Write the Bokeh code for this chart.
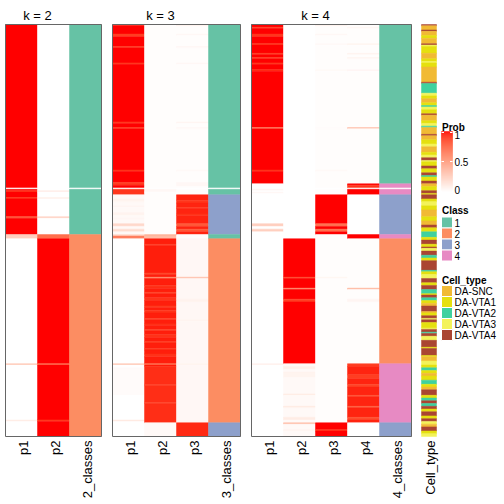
import numpy as np
from bokeh.plotting import figure
from bokeh.models import Range1d, ColumnDataSource
from bokeh.embed import file_html
from bokeh.resources import INLINE
from bokeh.core.properties import value

# ---------------- data ----------------
N_ROWS = 300
BLANK_ROWS = [119]
K_VALUES = [2, 3, 4]

# segments: (first_row, end_row, probability); later segments override earlier
K2_P1 = [(0, 153, 1.0), (121, 122, 0.9), (126, 127, 0.92), (140, 141, 0.75),
         (153, 156, 0.25), (156, 300, 0.0), (247, 248, 0.3), (288, 289, 0.1)]
K2_P2 = [(0, 153, 0.0), (121, 122, 0.1), (126, 127, 0.08), (140, 141, 0.25),
         (153, 156, 0.72), (156, 300, 1.0), (247, 248, 0.7), (288, 289, 0.9)]
K2_CLASS = [(0, 153, 1), (153, 300, 2)]
K2_LABELS = ["p1", "p2", "2_classes"]

K3_P1 = [(0, 124, 1.0), (0, 1, 0.9), (7, 9, 0.9), (16, 17, 0.9), (28, 29, 0.9),
         (71, 72, 0.9), (75, 76, 0.9), (106, 107, 0.92), (115, 117, 0.9),
         (120, 124, 0.92), (124, 153, 0.03), (127, 129, 0.06), (132, 133, 0.05),
         (137, 139, 0.06), (141, 142, 0.05), (145, 147, 0.2), (149, 151, 0.18),
         (153, 154, 0.2), (154, 156, 0.65), (156, 300, 0.0), (247, 248, 0.3),
         (250, 270, 0.02), (288, 289, 0.12)]
K3_P2 = [(0, 153, 0.01), (120, 122, 0.04), (153, 154, 0.4), (154, 156, 0.35),
         (156, 290, 0.97), (160, 161, 0.92), (181, 182, 0.85), (184, 185, 0.6),
         (190, 192, 0.93), (195, 196, 0.9), (199, 201, 0.92), (205, 206, 0.9),
         (208, 210, 0.93), (214, 215, 0.9), (218, 219, 0.92), (222, 223, 0.9),
         (226, 228, 0.93), (231, 232, 0.9), (236, 237, 0.92), (240, 242, 0.93),
         (247, 248, 0.7), (249, 290, 0.94), (262, 263, 0.91), (275, 276, 0.91),
         (290, 300, 0.03)]
K3_P3 = [(0, 124, 0.01), (0, 1, 0.12), (7, 8, 0.04), (16, 17, 0.05), (28, 29, 0.04),
         (71, 72, 0.05), (75, 76, 0.04), (106, 107, 0.03), (115, 118, 0.04),
         (124, 153, 0.96), (128, 130, 0.92), (133, 134, 0.93), (138, 139, 0.92),
         (145, 147, 0.8), (149, 151, 0.82), (153, 156, 0.01), (156, 290, 0.04),
         (184, 185, 0.35), (200, 202, 0.07), (215, 216, 0.06), (247, 248, 0.06),
         (290, 300, 0.95)]
K3_CLASS = [(0, 124, 1), (124, 153, 3), (153, 156, 1), (156, 290, 2), (290, 300, 3)]
K3_LABELS = ["p1", "p2", "p3", "3_classes"]

K4_P1 = [(0, 116, 1.0), (2, 3, 0.9), (7, 9, 0.92), (14, 15, 0.9), (21, 22, 0.92),
         (24, 25, 0.9), (28, 29, 0.9), (33, 34, 0.93), (75, 76, 0.65),
         (106, 107, 0.92), (116, 300, 0.0), (120, 121, 0.05), (122, 123, 0.04),
         (145, 147, 0.25), (149, 151, 0.25), (247, 248, 0.08)]
K4_P2 = [(0, 156, 0.0), (156, 247, 1.0), (184, 185, 0.88), (192, 193, 0.6),
         (200, 202, 0.9), (247, 300, 0.03), (249, 251, 0.08), (253, 257, 0.06),
         (269, 270, 0.1), (278, 279, 0.12), (286, 288, 0.1), (290, 291, 0.35),
         (295, 296, 0.06)]
K4_P3 = [(0, 124, 0.01), (0, 1, 0.12), (7, 8, 0.04), (14, 15, 0.03), (33, 34, 0.03),
         (75, 76, 0.02), (106, 107, 0.03), (124, 153, 1.0), (145, 147, 0.7),
         (149, 151, 0.72), (153, 290, 0.01), (184, 185, 0.06), (290, 300, 1.0),
         (295, 296, 0.9)]
K4_P4 = [(0, 116, 0.01), (2, 3, 0.05), (14, 15, 0.06), (21, 22, 0.07), (24, 25, 0.06),
         (33, 34, 0.05), (75, 76, 0.35), (116, 124, 1.0), (117, 119, 0.92),
         (124, 153, 0.0), (153, 156, 1.0), (156, 247, 0.01), (192, 193, 0.4),
         (200, 202, 0.05), (247, 290, 0.96), (247, 249, 0.9), (255, 258, 0.9),
         (262, 264, 0.88), (270, 271, 0.85), (278, 279, 0.8), (286, 288, 0.85),
         (290, 300, 0.0)]
K4_CLASS = [(0, 116, 1), (116, 124, 4), (124, 153, 3), (153, 156, 4), (156, 247, 2),
            (247, 290, 4), (290, 300, 3)]
K4_LABELS = ["p1", "p2", "p3", "p4", "4_classes"]

CLASS_NAMES = ["1", "2", "3", "4"]
CLASS_COLORS = ["#66C2A5", "#FC8D62", "#8DA0CB", "#E78AC3"]

CELL_TYPES = ["DA-SNC", "DA-VTA1", "DA-VTA2", "DA-VTA3", "DA-VTA4"]
CELL_TYPE_COLORS = ["#F1BA34", "#E5E00F", "#3FD19F", "#F3F35A", "#AA4532"]
# (cell type index, number of consecutive rows), top to bottom
CELL_TYPE_RUNS = [
    (4, 1), (0, 3), (4, 1), (0, 3), (1, 2), (0, 4), (4, 1), (3, 1), (1, 5), (0, 4),
    (1, 2), (3, 1), (1, 3), (0, 11), (4, 1), (2, 7), (3, 2), (1, 2), (0, 3), (1, 2),
    (2, 1), (3, 2), (1, 3), (4, 1), (0, 4), (1, 2), (3, 2), (2, 1), (0, 5), (4, 1),
    (0, 3), (1, 3), (3, 2), (0, 4), (1, 2), (3, 2), (4, 2),
    (3, 1), (1, 3), (4, 2), (1, 3), (4, 2), (2, 1), (1, 3), (4, 2), (0, 2), (1, 3),
    (4, 2), (1, 1), (4, 3), (1, 2), (3, 3), (1, 3), (0, 5), (1, 3), (0, 3), (4, 2),
    (1, 3), (2, 4), (1, 2), (4, 3), (1, 2), (4, 1), (3, 2), (4, 3), (2, 2), (1, 2),
    (4, 7), (2, 1), (1, 2), (3, 3), (4, 3), (1, 2), (4, 3), (2, 3), (1, 1),
    (4, 2), (2, 2), (1, 2), (0, 2), (4, 4), (0, 1), (1, 2), (4, 2), (3, 1), (4, 2),
    (1, 4), (3, 1), (4, 2), (2, 1), (4, 2), (3, 3), (4, 5), (1, 1), (4, 5), (1, 1),
    (0, 3), (3, 3), (1, 2), (2, 2), (1, 2), (0, 2), (1, 3), (2, 3), (1, 2), (0, 2),
    (4, 4), (1, 2), (2, 2), (4, 2), (2, 2), (4, 2), (1, 2), (4, 3), (1, 2), (4, 2),
    (3, 2), (0, 2), (4, 3), (1, 2), (3, 2)]

PROB_TICKS = [0, 0.5, 1]
PROB_TICK_LABELS = ["0", "0.5", "1"]

# ---------------- layout (canvas pixels) ----------------
W, H = 504, 504
HEAT_TOP, HEAT_H = 24, 412
COL_W = 32
PANEL_X = [5, 112, 251]
CELL_X, CELL_W = 421, 15
LEG_X, LEG_BOX, LEG_TEXT_X = 441, 11, 454
FONT = "Liberation Sans"

rh = HEAT_H / N_ROWS


def row_of(px):
    return (px - HEAT_TOP) / rh


# ---------------- colours ----------------
def _lin(c):
    return c / 12.92 if c <= 0.04045 else ((c + 0.055) / 1.055) ** 2.4


def _f(t):
    d = 6 / 29
    return t ** (1 / 3) if t > d ** 3 else t / (3 * d * d) + 4 / 29


def _finv(t):
    d = 6 / 29
    return t ** 3 if t > d else 3 * d * d * (t - 4 / 29)


def rgb2lab(rgb):
    r, g, b = [_lin(c / 255) for c in rgb]
    X = 0.4124564 * r + 0.3575761 * g + 0.1804375 * b
    Y = 0.2126729 * r + 0.7151522 * g + 0.0721750 * b
    Z = 0.0193339 * r + 0.1191920 * g + 0.9503041 * b
    fx, fy, fz = _f(X / 0.95047), _f(Y), _f(Z / 1.08883)
    return 116 * fy - 16, 500 * (fx - fy), 200 * (fy - fz)


def lab2hex(L, a, b):
    fy = (L + 16) / 116
    fx, fz = fy + a / 500, fy - b / 200
    X, Y, Z = 0.95047 * _finv(fx), _finv(fy), 1.08883 * _finv(fz)
    r = 3.2404542 * X - 1.5371385 * Y - 0.4985314 * Z
    g = -0.9692660 * X + 1.8760108 * Y + 0.0415560 * Z
    bb = 0.0556434 * X - 0.2040259 * Y + 1.0572252 * Z
    out = []
    for c in (r, g, bb):
        c = min(max(c, 0), 1)
        c = 12.92 * c if c <= 0.0031308 else 1.055 * c ** (1 / 2.4) - 0.055
        out.append(int(round(min(max(c, 0), 1) * 255)))
    return "#%02x%02x%02x" % tuple(out)


LAB_W = rgb2lab((255, 255, 255))
LAB_R = rgb2lab((255, 0, 0))


def prob_color(v):
    return lab2hex(*[w + (r - w) * v for w, r in zip(LAB_W, LAB_R)])


def fill(segments, n, default=0.0):
    arr = [default] * n
    for s, e, v in segments:
        for i in range(s, e):
            arr[i] = v
    return arr


# ---------------- figure ----------------
p = figure(width=W, height=H, x_range=Range1d(0, W),
           y_range=Range1d(row_of(H), row_of(0)),
           x_axis_type=None, y_axis_type=None, toolbar_location=None,
           output_backend="svg", min_border=0)
p.outline_line_color = None
p.background_fill_color = "white"

quads = dict(left=[], right=[], top=[], bottom=[], color=[])


def add_column(colors, x0, x1):
    start = 0
    for i in range(1, len(colors) + 1):
        if i == len(colors) or colors[i] != colors[start]:
            quads["left"].append(x0)
            quads["right"].append(x1)
            quads["top"].append(start)
            quads["bottom"].append(i)
            quads["color"].append(colors[start])
            start = i


panels = [
    (K_VALUES[0], [K2_P1, K2_P2], K2_CLASS, K2_LABELS),
    (K_VALUES[1], [K3_P1, K3_P2, K3_P3], K3_CLASS, K3_LABELS),
    (K_VALUES[2], [K4_P1, K4_P2, K4_P3, K4_P4], K4_CLASS, K4_LABELS),
]

borders = dict(left=[], right=[], top=[], bottom=[])
titles = dict(x=[], y=[], text=[])
labels = dict(x=[], y=[], text=[])

for px0, (k, probs, cls, names) in zip(PANEL_X, panels):
    for j, seg in enumerate(probs):
        vals = fill(seg, N_ROWS)
        cols = [prob_color(v) for v in vals]
        for r in BLANK_ROWS:
            cols[r] = "#ffffff"
        add_column(cols, px0 + j * COL_W, px0 + (j + 1) * COL_W)
    cvals = fill(cls, N_ROWS, 1)
    ccols = [CLASS_COLORS[c - 1] for c in cvals]
    for r in BLANK_ROWS:
        ccols[r] = "#ffffff"
    nc = len(probs)
    add_column(ccols, px0 + nc * COL_W, px0 + (nc + 1) * COL_W)
    borders["left"].append(px0)
    borders["right"].append(px0 + (nc + 1) * COL_W)
    borders["top"].append(0)
    borders["bottom"].append(N_ROWS)
    titles["x"].append(px0 + nc * COL_W / 2)
    titles["y"].append(row_of(15))
    titles["text"].append("k = %d" % k)
    for j, nm in enumerate(names):
        labels["x"].append(px0 + (j + 0.5) * COL_W + 1.5)
        labels["y"].append(row_of(HEAT_TOP + HEAT_H + 4))
        labels["text"].append(nm)

# cell type column
ct = []
for idx, cnt in CELL_TYPE_RUNS:
    ct.extend([idx] * cnt)
add_column([CELL_TYPE_COLORS[i] for i in ct], CELL_X, CELL_X + CELL_W)
labels["x"].append(CELL_X + CELL_W / 2 + 1.5)
labels["y"].append(row_of(HEAT_TOP + HEAT_H + 4))
labels["text"].append("Cell_type")

p.quad(left="left", right="right", top="top", bottom="bottom",
       fill_color="color", line_color="color", line_width=0.5,
       source=ColumnDataSource(quads))
p.quad(left="left", right="right", top="top", bottom="bottom",
       fill_color=None, line_color="#666666", line_width=1,
       source=ColumnDataSource(borders))

p.text(x="x", y="y", text="text", source=ColumnDataSource(titles),
       text_font=value(FONT), text_font_size="13px", text_align="center",
       text_baseline="alphabetic", text_color="black")
p.text(x="x", y="y", text="text", source=ColumnDataSource(labels),
       angle=np.pi / 2, text_font=value(FONT), text_font_size="13px",
       text_align="right", text_baseline="middle", text_color="black")

# ---------------- legends ----------------
# Prob colour bar
CB_TOP, CB_BOT = 131, 191
steps = 60
cb = dict(left=[], right=[], top=[], bottom=[], color=[])
for s in range(steps):
    v0 = s / steps
    v1 = (s + 1) / steps
    cb["left"].append(LEG_X)
    cb["right"].append(LEG_X + LEG_BOX)
    cb["bottom"].append(row_of(CB_BOT - v0 * (CB_BOT - CB_TOP)))
    cb["top"].append(row_of(CB_BOT - v1 * (CB_BOT - CB_TOP)))
    cb["color"].append(prob_color((v0 + v1) / 2))
p.quad(left="left", right="right", top="top", bottom="bottom",
       fill_color="color", line_color="color", line_width=0.5,
       source=ColumnDataSource(cb))

tick_y = [CB_BOT - t * (CB_BOT - CB_TOP) for t in PROB_TICKS]
seg = dict(x0=[], x1=[], y=[])
for t, ty in zip(PROB_TICKS, tick_y):
    if 0 < t:
        yy = max(ty, CB_TOP + 1)
        seg["x0"] += [LEG_X, LEG_X + LEG_BOX - 2.5]
        seg["x1"] += [LEG_X + 2.5, LEG_X + LEG_BOX]
        seg["y"] += [row_of(yy), row_of(yy)]
p.segment(x0="x0", x1="x1", y0="y", y1="y", line_color="white", line_width=1,
          source=ColumnDataSource(seg))
p.text(x=[LEG_TEXT_X] * 3,
       y=[row_of(min(max(ty, CB_TOP + 3), CB_BOT - 2)) for ty in tick_y],
       text=PROB_TICK_LABELS, text_font=value(FONT), text_font_size="10px",
       text_baseline="middle", text_align="left", text_color="black")

# legend titles
p.text(x=[LEG_X + 0.5] * 3, y=[row_of(126.5), row_of(209.5), row_of(279.5)],
       text=["Prob", "Class", "Cell_type"], text_font=value(FONT),
       text_font_size="10px", text_font_style="bold", text_baseline="alphabetic",
       text_align="left", text_color="black")

PITCH = 11
leg = dict(left=[], right=[], top=[], bottom=[], color=[])
leg_txt = dict(x=[], y=[], text=[])
for start, names, colors in [(216.5, CLASS_NAMES, CLASS_COLORS),
                             (285, CELL_TYPES, CELL_TYPE_COLORS)]:
    for i, (nm, c) in enumerate(zip(names, colors)):
        y0 = start + i * PITCH
        leg["left"].append(LEG_X)
        leg["right"].append(LEG_X + LEG_BOX)
        leg["top"].append(row_of(y0))
        leg["bottom"].append(row_of(y0 + PITCH))
        leg["color"].append(c)
        leg_txt["x"].append(LEG_TEXT_X)
        leg_txt["y"].append(row_of(y0 + PITCH / 2))
        leg_txt["text"].append(nm)
p.quad(left="left", right="right", top="top", bottom="bottom",
       fill_color="color", line_color="white", line_width=1,
       source=ColumnDataSource(leg))
p.text(x="x", y="y", text="text", source=ColumnDataSource(leg_txt),
       text_font=value(FONT), text_font_size="10px", text_baseline="middle",
       text_align="left", text_color="black")

open("out.html", "w").write(file_html(p, INLINE))
